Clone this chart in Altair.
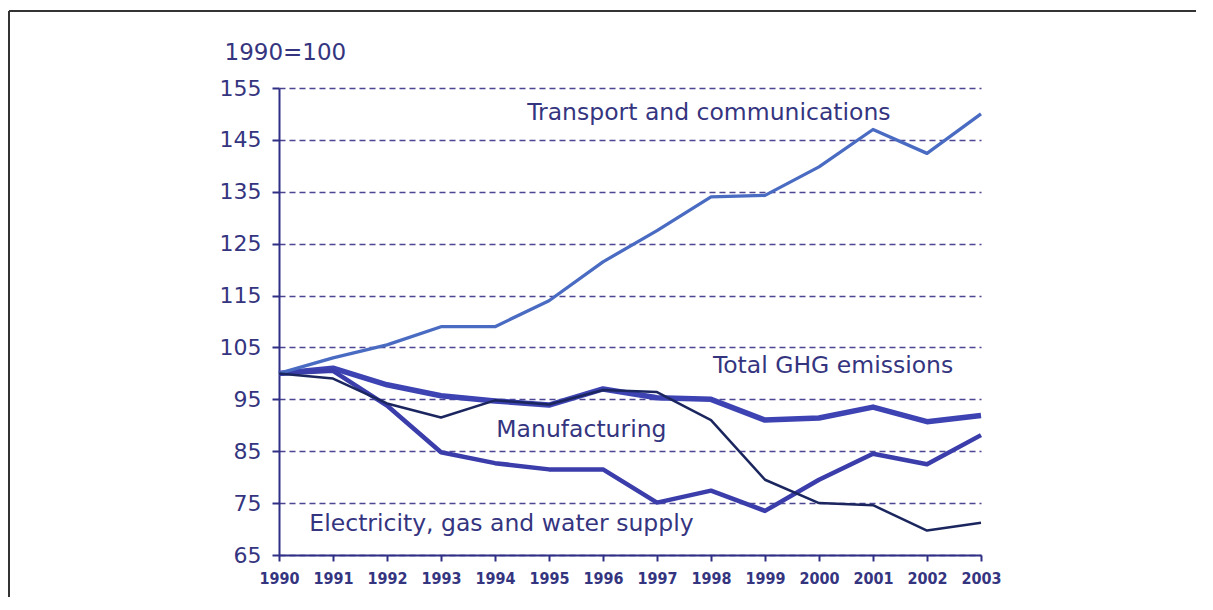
import altair as alt
import pandas as pd

years = list(range(1990, 2004))
transport = [100, 103, 105.5, 109, 109, 114, 121.5, 127.5, 134, 134.3, 139.8, 147, 142.4, 150]
ghg = [100, 101, 97.8, 95.7, 94.7, 93.9, 97, 95.3, 95, 91, 91.4, 93.5, 90.7, 91.9]
manufacturing = [100, 99, 94.2, 91.5, 94.8, 94, 96.8, 96.4, 91, 79.5, 75, 74.6, 69.7, 71.2]
electricity = [100, 100.5, 93.8, 84.8, 82.7, 81.5, 81.5, 75.1, 77.4, 73.5, 79.5, 84.5, 82.5, 88.1]

series_names = ["Total GHG emissions", "Electricity, gas and water supply",
                "Transport and communications", "Manufacturing"]
series_values = [ghg, electricity, transport, manufacturing]
series_colors = ["#3d43b2", "#3a3daa", "#4a6bc2", "#1b265f"]
series_widths = [5.5, 4.5, 3.3, 2.5]

label_texts = ["Transport and communications", "Total GHG emissions",
               "Manufacturing", "Electricity, gas and water supply"]
label_x = [1997.96, 2000.26, 1995.6, 1994.12]
label_y = [150.2, 101.4, 89.1, 71.0]

y_ticks = [65, 75, 85, 95, 105, 115, 125, 135, 145, 155]

TEXT = "#35357f"
AXIS = "#2f2f85"

W, H = 702, 467
PL, PT = 271, 80

rows = []
for name, vals in zip(series_names, series_values):
    for yr, v in zip(years, vals):
        rows.append({"year": yr, "value": v, "series": name})
df = pd.DataFrame(rows)

x_scale = alt.Scale(domain=[1990, 2003], nice=False, zero=False)
y_scale = alt.Scale(domain=[65, 155], nice=False, zero=False)

x_axis = alt.Axis(values=years, format="d", title=None, grid=False,
                  domainColor=AXIS, domainWidth=2, tickColor=AXIS, tickWidth=2,
                  tickSize=6, labelFont="DejaVu Sans Condensed, DejaVu Sans",
                  labelFontWeight="bold", labelFontSize=16, labelColor=TEXT,
                  labelPadding=9, labelOverlap=False, labelFlush=False)
y_axis = alt.Axis(values=y_ticks, title="1990=100", titleAngle=0, titleAlign="left",
                  titleBaseline="middle", titleX=-55, titleY=-36, titleFont="DejaVu Sans",
                  titleFontSize=23, titleFontWeight="normal", titleColor=TEXT,
                  grid=True, gridColor="#4b4592", gridDash=[6, 4], gridWidth=1.6,
                  domainColor=AXIS, domainWidth=2, tickColor=AXIS, tickWidth=2, tickSize=7,
                  labelFont="DejaVu Sans", labelFontSize=22, labelColor=TEXT, labelPadding=11)

layers = []
for name, col, sw in zip(series_names, series_colors, series_widths):
    layers.append(
        alt.Chart(df[df.series == name]).mark_line(color=col, strokeWidth=sw, strokeJoin="round")
        .encode(x=alt.X("year:Q", scale=x_scale, axis=x_axis),
                y=alt.Y("value:Q", scale=y_scale, axis=y_axis))
    )

lab_df = pd.DataFrame({"text": label_texts, "x": label_x, "y": label_y})
labels = alt.Chart(lab_df).mark_text(font="DejaVu Sans", fontSize=23.5, color=TEXT,
                                     align="center", baseline="middle").encode(
    x=alt.X("x:Q", scale=x_scale), y=alt.Y("y:Q", scale=y_scale), text="text:N")

frame_top = alt.Chart(pd.DataFrame({"a": [0]})).mark_rule(color="#333333", strokeWidth=2, clip=False).encode(
    x=alt.value(-PL + 1), x2=alt.value(W + 240), y=alt.value(-PT + 3))
frame_left = alt.Chart(pd.DataFrame({"a": [0]})).mark_rule(color="#333333", strokeWidth=2, clip=False).encode(
    x=alt.value(-PL + 1), y=alt.value(-PT + 3), y2=alt.value(H + 60))

chart = alt.layer(*layers, labels, frame_top, frame_left).properties(
    width=W, height=H,
    autosize=alt.AutoSizeParams(type="none"),
    padding={"left": PL, "top": PT, "right": 215, "bottom": 42},
    background="white",
).configure_view(stroke=None)

chart.save("out.html", embed_options={"renderer": "svg", "actions": False})
